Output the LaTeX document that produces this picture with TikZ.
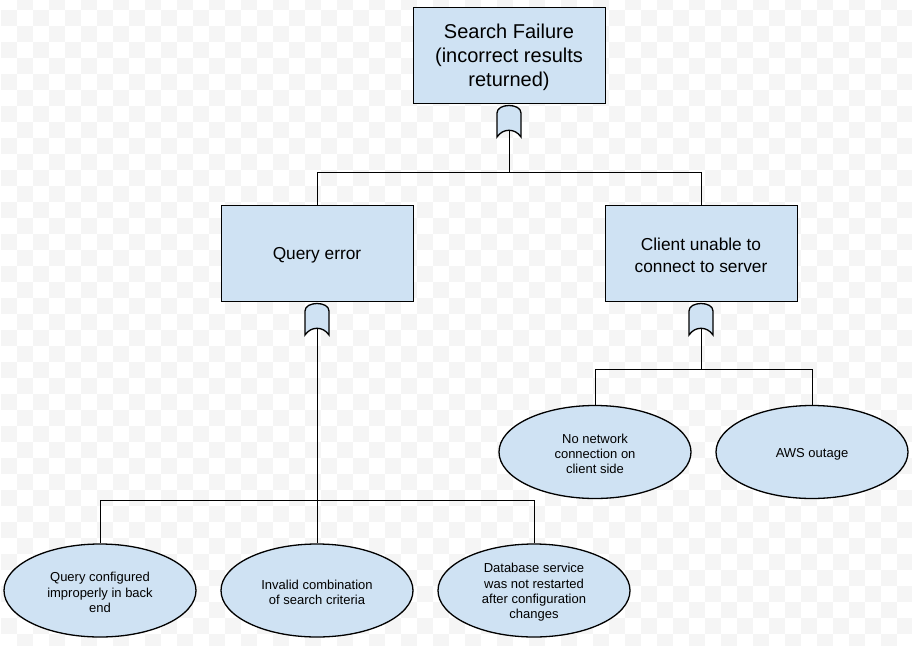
\documentclass[tikz,border=0pt]{standalone}
\usepackage{fontspec}
\setmainfont{Liberation Sans}
\usetikzlibrary{shapes.geometric}
\definecolor{fillblue}{HTML}{CFE2F3}
\definecolor{checker}{HTML}{F5F5F5}
\tikzset{
  evbox/.style={draw=black, line width=0.9pt, fill=fillblue, minimum width=192pt, minimum height=96pt, inner sep=0pt},
  evell/.style={ellipse, draw=black, line width=1.3pt, fill=fillblue, minimum width=192pt, minimum height=93pt, inner sep=0pt},
  boxtext/.style={inner sep=0pt, align=center, font=\fontsize{17.3}{21.8}\selectfont},
  toptext/.style={inner sep=0pt, align=center, font=\fontsize{20}{24}\selectfont},
  elltext/.style={inner sep=0pt, align=center, font=\fontsize{13}{15.3}\selectfont},
  gate/.style={draw=black, line width=1.3pt, fill=fillblue},
  wire/.style={draw=black, line width=1pt}
}
\newcommand{\orgate}[3]{% name, x, top y
  \draw[gate] (#2-12,#3+33) -- (#2-12,#3+9) .. controls (#2-12,#3-1) and (#2+12,#3-1) .. (#2+12,#3+9) -- (#2+12,#3+33) .. controls (#2+6,#3+24) and (#2-6,#3+24) .. (#2-12,#3+33) -- cycle;
  \coordinate (#1) at (#2,#3+27);
}
\begin{document}
\begin{tikzpicture}[x=1pt,y=-1pt]
\useasboundingbox (0,0) rectangle (912,645);
\fill[white] (0,0) rectangle (912,645);
\begin{scope}
\clip (0,0) rectangle (912,645);
\foreach \j in {-1,...,40} {
  \pgfmathtruncatemacro\off{mod(\j+2,2)}
  \foreach \k in {0,...,28} {
    \fill[checker] ({(2*\k+\off)*16+0.5},{10+16*\j}) rectangle ++(16,16);
  }
}
\end{scope}
% shapes
\node[evbox] (top) at (509,55.5) {};
\node[evbox] (qe) at (317,253) {};
\node[evbox] (cu) at (701,253) {};
\node[evell] (e1) at (100,590.5) {};
\node[evell] (e2) at (317,590.5) {};
\node[evell] (e3) at (534,590.5) {};
\node[evell] (e4) at (595,452) {};
\node[evell] (e5) at (812,452) {};
% texts
\node[toptext] (top-t) at ([yshift=-2pt]top.center) {Search Failure\\(incorrect results\\returned)};
\node[boxtext] (qe-t) at ([yshift=-2pt]qe.center) {Query error};
\node[boxtext] (cu-t) at ([yshift=-2pt]cu.center) {Client unable to\\connect to server};
\node[elltext] (e1-t) at ([yshift=-2pt]e1.center) {Query configured\\improperly in back\\end};
\node[elltext] (e2-t) at ([yshift=-2pt]e2.center) {Invalid combination\\of search criteria};
\node[elltext] (e3-t) at ([yshift=-2pt]e3.center) {Database service\\was not restarted\\after configuration\\changes};
\node[elltext] (e4-t) at ([yshift=-2pt]e4.center) {No network\\connection on\\client side};
\node[elltext] (e5-t) at ([yshift=-2pt]e5.center) {AWS outage};
% gates
\orgate{g1}{509}{104}
\orgate{g2}{317}{302}
\orgate{g3}{701}{302}
% junction coordinates
\coordinate (j1) at (509,172);
\coordinate (j2) at (317,500);
\coordinate (j3) at (701,369);
% wires
\draw[wire] (g1) -- (j1);
\draw[wire] (j1) -| (qe.north);
\draw[wire] (j1) -| (cu.north);
\draw[wire] (g2) -- (j2);
\draw[wire] (j2) -| (e1.north);
\draw[wire] (j2) -- (e2.north);
\draw[wire] (j2) -| (e3.north);
\draw[wire] (g3) -- (j3);
\draw[wire] (j3) -| (e4.north);
\draw[wire] (j3) -| (e5.north);
\end{tikzpicture}
\end{document}
